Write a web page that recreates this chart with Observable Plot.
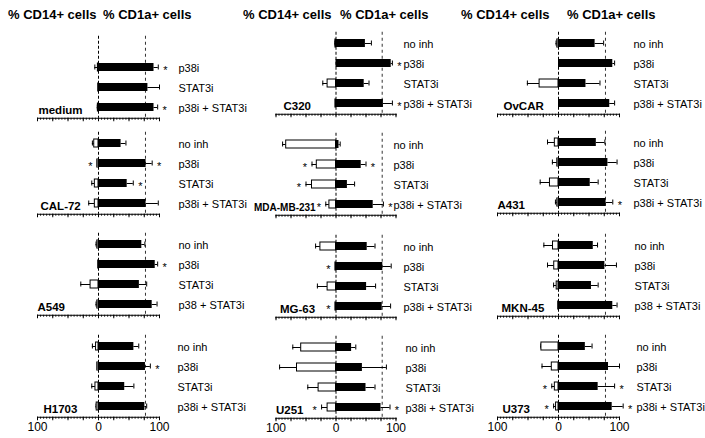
<!DOCTYPE html>
<html><head><meta charset="utf-8">
<script src="https://cdn.jsdelivr.net/npm/d3@7"></script>
<script src="https://cdn.jsdelivr.net/npm/@observablehq/plot@0.6"></script>
<style>
body{margin:0;background:#fff;font-family:"Liberation Sans",Arial,sans-serif;}
#root{position:relative;width:705px;height:438px;overflow:hidden;background:#fff;}
.hdr{position:absolute;font-weight:bold;font-size:13px;white-space:nowrap;top:7px;line-height:16px;}
.panel{position:absolute;}
.panel svg{overflow:visible;}
</style></head><body><div id="root"></div>
<script>
// ---------- data ----------
const cellLines = ["medium","CAL-72","A549","H1703","C320","MDA-MB-231","MG-63","U251","OvCAR","A431","MKN-45","U373"];
const conditions = ["no inh","p38i","STAT3i","p38i + STAT3i"];
const conditionLabels = [
  ["","p38i","STAT3i","p38i + STAT3i"],
  ["no inh","p38i","STAT3i","p38i + STAT3i"],
  ["no inh","p38i","STAT3i","p38 + STAT3i"],
  ["no inh","p38i","STAT3i","p38i + STAT3i"],
  ["no inh","p38i","STAT3i","p38i + STAT3i"],
  ["no inh","p38i","STAT3i","p38i + STAT3i"],
  ["no inh","p38i","STAT3i","p38i + STAT3i"],
  ["no inh","p38i","STAT3i","p38i + STAT3i"],
  ["no inh","p38i","STAT3i","p38i + STAT3i"],
  ["no inh","p38i","STAT3i","p38i + STAT3i"],
  ["no inh","p38i","STAT3i","p38 + STAT3i"],
  ["no inh","p38i","STAT3i","p38i + STAT3i"]
];
// % CD14+ cells (drawn to the left)
const cd14 = [
  [null,1,0.5,1],[7,2,6,6],[2,0.5,13,2],[4,2,5,3],
  [1,0,14,1],[83,32,40,11],[26,1,14,1],[58,65,29,14],
  [2,0,31,0],[6,2,14,2],[9,7,3,0.5],[28,11,6,4]
];
const cd14Err = [
  [null,5,0,1],[3,0,5,10],[2,0,16,2],[6,0,6,1],
  [1,0,8,0],[6,8,10,6],[8,0,17,0],[14,29,18,10],
  [2,0,20,0],[12,8,16,3],[15,11,5,0],[1,16,5,4]
];
// % CD1a+ cells (drawn to the right)
const cd1a = [
  [null,91,81,91],[37,78,47,78],[71,93,67,88],[58,77,43,76],
  [49,92,47,79],[5,42,19,62],[52,78,51,77],[26,44,50,75],
  [60,89,45,84],[62,81,52,78],[57,76,54,89],[44,82,65,88]
];
const cd1aErr = [
  [null,7,19,6],[8,10,10,20],[5,4,12,8],[8,8,15,3],
  [10,2,8,15],[2,8,12,17],[13,14,15,14],[7,40,15,15],
  [14,3,23,8],[14,15,13,11],[7,19,11,7],[11,18,27,18]
];
const star14 = [
  [0,0,0,0],[0,1,0,0],[0,0,0,0],[0,0,0,0],
  [0,0,0,0],[0,1,1,1],[0,1,0,1],[0,0,0,1],
  [0,0,0,0],[0,0,0,0],[0,0,0,0],[0,0,1,1]
];
const star1a = [
  [0,1,0,1],[0,1,1,0],[0,1,0,0],[0,1,0,0],
  [0,1,0,1],[0,1,0,1],[0,0,0,0],[0,0,0,1],
  [0,0,0,0],[0,0,0,1],[0,0,0,0],[0,0,1,1]
];
const headerLeft = "% CD14+ cells";
const headerRight = "% CD1a+ cells";
const tickValues = [-100, 0, 100];
const refLine = 77;

// ---------- layout ----------
const colLeft = [0, 236, 470];
const colWidth = [250, 240, 235];
const colMarginLeft = [37, 39.5, 27];
const colMarginRight = [91, 80.5, 86];
const rowY0 = [[46,142,243,345],[42,143,245,346],[42,141,244,345]];
const labelDx = [19,19,19,18, 7.5,-2.5,7.5,9.5, 14,14,15,17];
const nameDx = [1,3,0,6, 7.5,-22,4,0, 6,0,4,5];
const nameSize = [11.5,11.5,11.5,11.5, 11.5,10,11.5,11.5, 11.5,11.5,11.5,11.5];
const headerX = [[8,103],[243,340],[461,567]];
const step = 20.5;

const root = document.getElementById("root");

headerX.forEach(([a,b]) => {
  const h1 = document.createElement("div"); h1.className="hdr"; h1.style.left=a+"px"; h1.textContent=headerLeft; root.appendChild(h1);
  const h2 = document.createElement("div"); h2.className="hdr"; h2.style.left=b+"px"; h2.textContent=headerRight; root.appendChild(h2);
});

for (let col = 0; col < 3; col++) {
  for (let row = 0; row < 4; row++) {
    const p = col*4 + row;
    const rows = conditions.map((c,i) => ({
      cond: c, label: conditionLabels[p][i],
      v14: cd14[p][i], e14: cd14Err[p][i],
      v1a: cd1a[p][i], e1a: cd1aErr[p][i],
      s14: star14[p][i], s1a: star1a[p][i]
    }));
    const y0 = rowY0[col][row];
    const topPad = 16;
    const marginTop = topPad - step/2;
    const isBottom = row === 3;
    const marginBottom = isBottom ? 26 : 6;
    const height = marginTop + step*4 + marginBottom;
    const w14 = rows.filter(d => d.v14 != null && d.v14 > 0);
    const e14 = rows.filter(d => d.v14 != null && d.e14 > 0);
    const b1a = rows.filter(d => d.v1a != null && d.v1a > 0);
    const e1a = rows.filter(d => d.v1a != null && d.e1a > 0);
    const marks = [
      Plot.ruleX([0], {stroke: "black", strokeWidth: 1, strokeDasharray: "3,2"}),
      Plot.ruleX([refLine], {stroke: "#333", strokeWidth: 1, strokeDasharray: "3,3"}),
      Plot.ruleY(e14, {y: "cond", x1: d => -d.v14, x2: d => -(d.v14 + d.e14), stroke: "black", strokeWidth: 1}),
      Plot.tickX(e14, {y: "cond", x: d => -(d.v14 + d.e14), stroke: "black", strokeWidth: 1, insetTop: 1.5, insetBottom: 1.5}),
      Plot.ruleY(e1a, {y: "cond", x1: d => d.v1a, x2: d => d.v1a + d.e1a, stroke: "black", strokeWidth: 1}),
      Plot.tickX(e1a, {y: "cond", x: d => d.v1a + d.e1a, stroke: "black", strokeWidth: 1, insetTop: 1.5, insetBottom: 1.5}),
      Plot.barX(w14, {y: "cond", x1: 0, x2: d => -d.v14, fill: "white", stroke: "black", strokeWidth: 1}),
      Plot.barX(b1a, {y: "cond", x1: 0, x2: d => d.v1a, fill: "black"}),
      Plot.text(rows.filter(d => d.s14), {y: "cond", x: d => -((d.v14||0) + (d.e14||0)), text: () => "*", dx: -7, dy: 3, fontSize: 11}),
      Plot.text(rows.filter(d => d.s1a), {y: "cond", x: d => (d.v1a||0) + (d.e1a||0), text: () => "*", dx: 7, dy: 3, fontSize: 11}),
      Plot.text(rows.filter(d => d.label), {y: "cond", x: () => 100, text: "label", textAnchor: "start", dx: labelDx[p], dy: 1, fontSize: 11}),
      Plot.text([cellLines[p]], {x: () => -100, y: () => conditions[3], text: d => d, textAnchor: "start", dx: nameDx[p], dy: 3, fontWeight: "bold", fontSize: nameSize[p]}),
      Plot.axisX({ticks: d3.range(-100, 101, 5), tickSize: 2, tickFormat: () => "", stroke: "#222"}),
      Plot.axisX({ticks: d3.range(-100, 101, 25), tickSize: 3.5, tickFormat: () => "", stroke: "black"}),
      Plot.frame({anchor: "bottom", stroke: "black"})
    ];
    if (isBottom) {
      marks.push(Plot.axisX({ticks: tickValues, tickSize: 0, tickPadding: 5, tickFormat: d => Math.abs(d), fontSize: 12}));
    }
    const chart = Plot.plot({
      width: colWidth[col],
      height,
      marginLeft: colMarginLeft[col],
      marginRight: colMarginRight[col],
      marginTop,
      marginBottom,
      x: {domain: [-100, 100], axis: null},
      y: {type: "band", domain: conditions, paddingInner: 0.58, paddingOuter: 0.29, axis: null},
      style: {background: "transparent", fontFamily: "'Liberation Sans', Arial, sans-serif", fontSize: "11px", color: "black", overflow: "visible"},
      marks
    });
    const div = document.createElement("div");
    div.className = "panel";
    div.style.left = colLeft[col] + "px";
    div.style.top = (y0 - topPad) + "px";
    div.style.width = colWidth[col] + "px";
    div.appendChild(chart);
    root.appendChild(div);
  }
}
</script></body></html>
